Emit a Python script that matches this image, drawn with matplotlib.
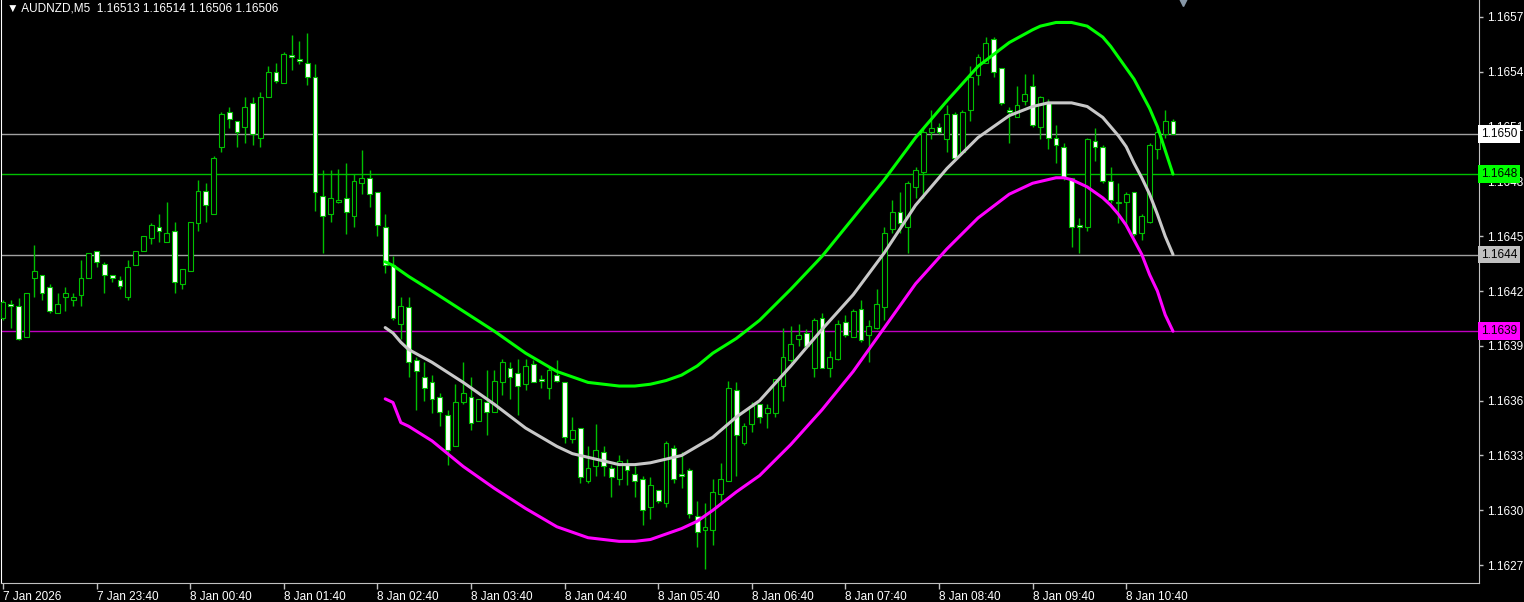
import numpy as np
import matplotlib.pyplot as plt
from matplotlib.transforms import blended_transform_factory

plt.rcParams['font.family'] = ['Liberation Sans', 'DejaVu Sans']

symbol = 'AUDNZD,M5'

# 5 minute bars, prices in points (1e-5)
opens = np.array([
    116405, 116413, 116412, 116395, 116427, 116429, 116422, 116408, 116417, 116415,
    116418, 116427, 116442, 116435, 116429, 116426, 116417, 116434, 116442, 116449,
    116455, 116447, 116453, 116424, 116431, 116457, 116475, 116462, 116499, 116518,
    116513, 116510, 116523, 116504, 116526, 116540, 116534, 116549, 116547, 116545,
    116537, 116472, 116462, 116469, 116471, 116461, 116479, 116482, 116474, 116455,
    116434, 116402, 116411, 116382, 116373, 116370, 116362, 116352, 116335, 116359,
    116362, 116349, 116359, 116354, 116370, 116378, 116375, 116369, 116380, 116372,
    116367, 116374, 116370, 116339, 116345, 116316, 116324, 116332, 116323, 116317,
    116325, 116320, 116317, 116302, 116311, 116304, 116334, 116320, 116322, 116297,
    116289, 116289, 116309, 116316, 116366, 116337, 116347, 116358, 116353, 116353,
    116368, 116382, 116394, 116397, 116378, 116405, 116378, 116383, 116403, 116395,
    116410, 116396, 116400, 116411, 116454, 116463, 116455, 116477, 116485, 116507,
    116510, 116503, 116517, 116496, 116519, 116538, 116545, 116558, 116542, 116519,
    116515, 116524, 116532, 116510, 116523, 116504, 116499, 116482, 116456, 116455,
    116502, 116499, 116480, 116468, 116469, 116474, 116452, 116458, 116498, 116506,
    116513]) / 1e5
highs = np.array([
    116415, 116415, 116416, 116419, 116445, 116429, 116424, 116419, 116422, 116419,
    116437, 116441, 116442, 116436, 116429, 116428, 116437, 116442, 116450, 116457,
    116462, 116469, 116458, 116432, 116458, 116481, 116479, 116494, 116518, 116521,
    116513, 116526, 116526, 116529, 116543, 116545, 116551, 116560, 116557, 116561,
    116544, 116486, 116486, 116487, 116490, 116484, 116497, 116486, 116474, 116462,
    116439, 116417, 116417, 116384, 116381, 116374, 116364, 116355, 116369, 116381,
    116373, 116361, 116377, 116377, 116383, 116381, 116383, 116383, 116382, 116374,
    116379, 116382, 116370, 116351, 116345, 116335, 116347, 116335, 116325, 116330,
    116328, 116324, 116319, 116318, 116311, 116338, 116336, 116332, 116323, 116305,
    116304, 116317, 116326, 116371, 116370, 116348, 116359, 116358, 116358, 116372,
    116400, 116401, 116402, 116399, 116405, 116408, 116387, 116404, 116407, 116410,
    116415, 116404, 116421, 116455, 116470, 116474, 116480, 116488, 116509, 116519,
    116512, 116522, 116518, 116519, 116543, 116550, 116559, 116559, 116542, 116521,
    116532, 116539, 116539, 116527, 116525, 116511, 116501, 116482, 116460, 116504,
    116509, 116500, 116488, 116479, 116474, 116474, 116462, 116501, 116510, 116519,
    116514]) / 1e5
lows = np.array([
    116404, 116400, 116393, 116395, 116417, 116415, 116408, 116408, 116409, 116412,
    116412, 116427, 116433, 116419, 116425, 116421, 116415, 116434, 116442, 116446,
    116447, 116447, 116419, 116421, 116431, 116453, 116458, 116462, 116496, 116509,
    116499, 116501, 116500, 116499, 116526, 116534, 116534, 116541, 116544, 116533,
    116464, 116441, 116458, 116468, 116451, 116455, 116473, 116466, 116450, 116430,
    116404, 116394, 116373, 116355, 116360, 116353, 116346, 116325, 116335, 116358,
    116344, 116349, 116341, 116354, 116363, 116361, 116352, 116366, 116370, 116367,
    116361, 116370, 116337, 116337, 116315, 116315, 116319, 116319, 116307, 116314,
    116314, 116307, 116292, 116295, 116304, 116302, 116315, 116312, 116296, 116280,
    116268, 116281, 116304, 116316, 116319, 116336, 116343, 116348, 116345, 116351,
    116360, 116381, 116390, 116389, 116373, 116378, 116373, 116382, 116395, 116395,
    116392, 116381, 116399, 116404, 116452, 116452, 116441, 116471, 116471, 116503,
    116506, 116496, 116493, 116496, 116513, 116533, 116545, 116537, 116522, 116501,
    116515, 116522, 116510, 116503, 116498, 116490, 116481, 116444, 116441, 116453,
    116491, 116479, 116468, 116457, 116455, 116450, 116448, 116457, 116492, 116504,
    116506]) / 1e5
closes = np.array([
    116414, 116412, 116394, 116419, 116431, 116419, 116409, 116413, 116419, 116417,
    116427, 116441, 116436, 116429, 116427, 116423, 116433, 116442, 116450, 116456,
    116453, 116452, 116425, 116432, 116458, 116475, 116467, 116493, 116517, 116514,
    116507, 116521, 116506, 116526, 116540, 116535, 116550, 116548, 116546, 116537,
    116474, 116461, 116471, 116470, 116463, 116480, 116482, 116473, 116456, 116434,
    116405, 116412, 116381, 116376, 116367, 116361, 116354, 116333, 116359, 116364,
    116348, 116361, 116354, 116371, 116381, 116373, 116368, 116379, 116370, 116371,
    116377, 116371, 116340, 116344, 116318, 116323, 116333, 116324, 116318, 116327,
    116322, 116316, 116300, 116314, 116305, 116337, 116317, 116319, 116298, 116288,
    116291, 116310, 116317, 116367, 116341, 116346, 116357, 116351, 116356, 116372,
    116384, 116391, 116396, 116390, 116404, 116378, 116384, 116402, 116396, 116409,
    116393, 116401, 116413, 116452, 116463, 116457, 116479, 116486, 116507, 116509,
    116507, 116517, 116493, 116518, 116537, 116548, 116556, 116540, 116523, 116518,
    116522, 116528, 116511, 116526, 116504, 116500, 116482, 116455, 116455, 116503,
    116499, 116480, 116470, 116469, 116473, 116451, 116461, 116500, 116507, 116513,
    116506]) / 1e5

# indicator bands (bar index, price)
band_bars = [49, 50, 51, 52, 55, 59, 63, 67, 71,
             73, 75, 77, 79, 81, 83, 85, 87, 89, 91,
             94, 97, 101, 105, 109, 113, 117, 121, 125, 129,
             132, 133, 134, 135, 136, 137, 138, 139, 140, 141,
             142, 143, 144, 145, 146, 147, 148, 149, 150]
band_upper = np.array([
    116436, 116434, 116431, 116428, 116420, 116409, 116398, 116386, 116376,
    116373, 116370, 116369, 116368, 116368, 116369, 116371, 116374, 116379, 116386,
    116394, 116404, 116421, 116439, 116460, 116481, 116504, 116524, 116543, 116556,
    116563, 116565, 116566, 116567, 116567, 116567, 116566, 116565, 116562, 116559,
    116554, 116548, 116542, 116536, 116528, 116520, 116510, 116497, 116484]) / 1e5
band_mid = np.array([
    116400, 116397, 116392, 116388, 116381, 116370, 116358, 116345, 116335,
    116331, 116329, 116327, 116325, 116325, 116326, 116328, 116330, 116335, 116340,
    116351, 116360, 116379, 116399, 116418, 116441, 116467, 116487, 116504, 116516,
    116521, 116522, 116523, 116523, 116523, 116523, 116522, 116521, 116518, 116515,
    116510, 116505, 116499, 116490, 116482, 116473, 116462, 116450, 116440]) / 1e5
band_lower = np.array([
    116361, 116359, 116348, 116346, 116338, 116324, 116312, 116301, 116291,
    116288, 116285, 116284, 116283, 116283, 116284, 116287, 116290, 116294, 116300,
    116310, 116319, 116336, 116355, 116376, 116400, 116424, 116443, 116460, 116473,
    116479, 116480, 116481, 116482, 116482, 116481, 116479, 116477, 116474, 116471,
    116467, 116462, 116456, 116448, 116440, 116429, 116420, 116407, 116398]) / 1e5

time_labels = ['7 Jan 2026', '7 Jan 23:40', '8 Jan 00:40', '8 Jan 01:40', '8 Jan 02:40',
               '8 Jan 03:40', '8 Jan 04:40', '8 Jan 05:40', '8 Jan 06:40', '8 Jan 07:40',
               '8 Jan 08:40', '8 Jan 09:40', '8 Jan 10:40']
label_step = 12
price_ticks = [1.16270, 1.16300, 1.16330, 1.16360, 1.16390, 1.16420,
               1.16450, 1.16480, 1.16510, 1.16540, 1.16570]


def price_text(p):
    # the price column only has room for four decimals
    return ('%.5f' % p)[:-1]


fig = plt.figure(figsize=(15.24, 6.02), dpi=100, facecolor='black')
ax = fig.add_axes([1 / 1524, 19 / 602, 1478 / 1524, 583 / 602])
ax.set_facecolor('black')

n = len(opens)
x = np.arange(n)
up = closes >= opens
wick = '#00c000'

# candles
ax.vlines(x, lows, highs, color=wick, lw=1, zorder=2)
bottom = np.minimum(opens, closes)
height = np.maximum(np.abs(closes - opens), 0.15e-5)
ax.bar(x, height, bottom=bottom, width=0.62, color=np.where(up, 'black', 'white'),
       edgecolor=wick, linewidth=0.8, zorder=3)

# bands
for vals, col in [(band_upper, '#00ff00'), (band_mid, '#c8c8c8'), (band_lower, '#ff00ff')]:
    ax.plot(band_bars, vals, color=col, lw=2.2, zorder=4, solid_joinstyle='round',
            solid_capstyle='round')

# horizontal levels + price boxes on the axis
levels = [(closes[-1], '#a0a0a0', 'white'),
          (band_upper[-1], '#00c000', '#00ff00'),
          (band_mid[-1], '#a0a0a0', '#c0c0c0'),
          (band_lower[-1], '#c000c0', '#ff00ff')]
trans = blended_transform_factory(ax.transAxes, ax.transData)
for price, lc, fc in levels:
    ax.axhline(price, color=lc, lw=1, zorder=1.5)
    ax.text(1.0012, price, price_text(price), transform=trans, ha='left', va='center',
            fontsize=8.5, color='black', zorder=10, clip_on=False,
            bbox=dict(boxstyle='square,pad=0.25', fc=fc, ec='none'))

ax.set_xlim((1 - 3) / 7.8, (1479 - 3) / 7.8)
ax.set_ylim(1.162602, 1.165793)

ax.yaxis.tick_right()
ax.set_yticks(price_ticks)
ax.set_yticklabels([price_text(p) for p in price_ticks])
ax.tick_params(axis='y', direction='out', length=3, width=1, color='#c0c0c0',
               labelcolor='white', labelsize=8.5, pad=3)

ax.set_xticks(x[::label_step])
ax.set_xticklabels(time_labels)
for lab in ax.get_xticklabels():
    lab.set_horizontalalignment('left')
ax.tick_params(axis='x', direction='out', length=4, width=1, color='#c0c0c0',
               labelcolor='white', labelsize=8.5, pad=2)

ax.spines['top'].set_visible(False)
ax.spines['left'].set_color('white')
ax.spines['bottom'].set_color('#c0c0c0')
ax.spines['right'].set_color('#c0c0c0')

title = '\u25bc %s  %.5f %.5f %.5f %.5f' % (symbol, opens[-1], highs[-1], lows[-1], closes[-1])
ax.text(0.004, 0.985, title, transform=ax.transAxes, color='white', fontsize=8.5,
        ha='left', va='center', zorder=10)

# chart shift marker
ax.plot([n + 0.3], [1.0], marker='v', ms=8, color='#8898a8',
        transform=blended_transform_factory(ax.transData, ax.transAxes),
        clip_on=False, zorder=10)

fig.savefig('out.png', dpi=100, facecolor='black')
